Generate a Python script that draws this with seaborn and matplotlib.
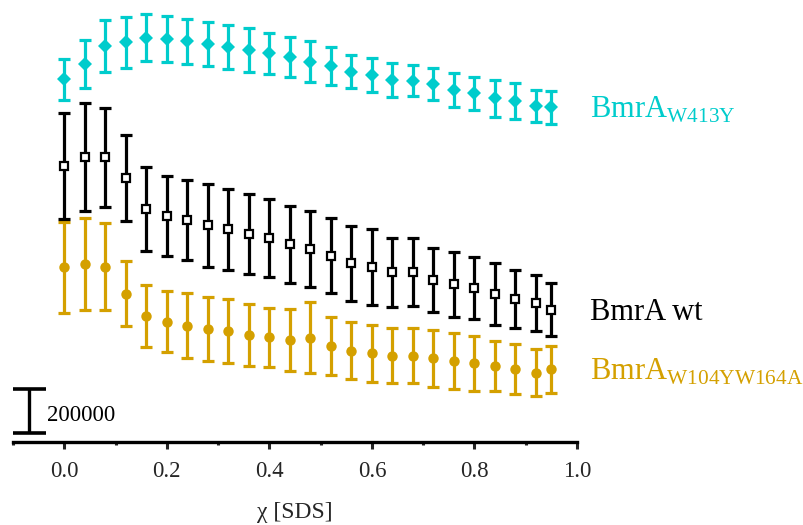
import numpy as np
import pandas as pd
import matplotlib
matplotlib.use("Agg")
import matplotlib.pyplot as plt
import seaborn as sns

# ---- data ----
chi = [0.00, 0.04, 0.08, 0.12, 0.16, 0.20, 0.24, 0.28, 0.32, 0.36, 0.40, 0.44,
       0.48, 0.52, 0.56, 0.60, 0.64, 0.68, 0.72, 0.76, 0.80, 0.84, 0.88, 0.92, 0.95]

w413y_mean = [1649000, 1718000, 1800000, 1817000, 1838000, 1832000, 1821000, 1809000,
              1795000, 1782000, 1767000, 1750000, 1729000, 1709000, 1683000, 1667000,
              1645000, 1642000, 1626000, 1600000, 1585000, 1562000, 1550000, 1527000, 1521000]
w413y_err = [93000, 111000, 118000, 116000, 107000, 103000, 104000, 99000, 99000, 99000,
             92000, 93000, 92000, 85000, 76000, 78000, 77000, 70000, 73000, 77000,
             75000, 83000, 81000, 74000, 76000]

wt_mean = [1256000, 1297000, 1294000, 1199000, 1058000, 1027000, 1009000, 986000,
           967000, 945000, 927000, 900000, 877000, 847000, 812000, 794000, 771000,
           771000, 736000, 717000, 699000, 673000, 649000, 630000, 601000]
wt_err = [241000, 245000, 225000, 196000, 190000, 182000, 181000, 189000, 183000,
          182000, 179000, 175000, 172000, 171000, 171000, 172000, 158000, 155000,
          145000, 148000, 140000, 142000, 133000, 127000, 120000]

dm_mean = [794000, 809000, 797000, 674000, 573000, 547000, 529000, 512000, 505000,
           486000, 476000, 462000, 474000, 436000, 415000, 403000, 392000, 392000,
           380000, 368000, 358000, 347000, 332000, 315000, 330000]
dm_err = [206000, 210000, 199000, 148000, 142000, 140000, 149000, 146000, 146000,
          140000, 135000, 141000, 162000, 133000, 129000, 128000, 126000, 124000,
          128000, 127000, 124000, 113000, 112000, 108000, 107000]

scale_value = 200000
xticks = [0.0, 0.2, 0.4, 0.6, 0.8, 1.0]
xtick_labels = ["0.0", "0.2", "0.4", "0.6", "0.8", "1.0"]

cyan = "#00CCCC"
gold = "#D4A000"
black = "#000000"

df = pd.DataFrame({
    "chi": chi * 3,
    "mean": w413y_mean + wt_mean + dm_mean,
    "err": w413y_err + wt_err + dm_err,
    "series": ["W413Y"] * len(chi) + ["wt"] * len(chi) + ["DM"] * len(chi),
})

sns.set_style("white")
plt.rcParams["font.family"] = ["Liberation Serif", "DejaVu Serif"]
plt.rcParams["mathtext.fontset"] = "custom"
plt.rcParams["mathtext.rm"] = "Liberation Serif"

fig = plt.figure(figsize=(8.04, 5.25), dpi=100)
ax = fig.add_axes([13 / 804, 83 / 525, 564 / 804, 440 / 525])

styles = {
    "DM": dict(color=gold, marker="o", ms=7.5, mfc=gold, mec=gold, mew=0),
    "wt": dict(color=black, marker="s", ms=5.5, mfc="white", mec=black, mew=1.6),
    "W413Y": dict(color=cyan, marker="D", ms=7.5, mfc=cyan, mec=cyan, mew=0),
}

for i, key in enumerate(["DM", "wt", "W413Y"]):
    sub = df[df["series"] == key]
    st = styles[key]
    ax.errorbar(sub["chi"], sub["mean"], yerr=sub["err"], fmt="none",
                ecolor=st["color"], elinewidth=2.3, capsize=4, capthick=2.3,
                zorder=2 + 2 * i)
    ax.plot(sub["chi"], sub["mean"], linestyle="none", marker=st["marker"],
            ms=st["ms"], mfc=st["mfc"], mec=st["mec"], mew=st["mew"],
            zorder=3 + 2 * i)

ax.set_xlim(-0.1, 1.0)
ax.set_ylim(0, 2000000)

for s in ["top", "right", "left"]:
    ax.spines[s].set_visible(False)
ax.spines["bottom"].set_linewidth(2.4)
ax.spines["bottom"].set_color("black")

ax.set_yticks([])
ax.set_xticks(xticks)
ax.set_xticklabels(xtick_labels, fontsize=16.5)
ax.set_xticks([-0.1, 0.1, 0.3, 0.5, 0.7, 0.9], minor=True)
ax.tick_params(axis="x", which="major", direction="out", length=5, width=2.2,
               pad=9, bottom=True)
ax.tick_params(axis="x", which="minor", direction="out", length=2.5, width=2.2,
               bottom=True)
ax.set_xlabel("χ [SDS]", fontsize=17, labelpad=14)

# scale bar
bar_x = -0.069
y0 = 41000
ax.plot([bar_x, bar_x], [y0, y0 + scale_value], color="black", lw=2.4,
        solid_capstyle="butt", clip_on=False)
ax.plot([-0.1, -0.036], [y0, y0], color="black", lw=2.6, solid_capstyle="butt",
        clip_on=False)
ax.plot([-0.1, -0.036], [y0 + scale_value, y0 + scale_value], color="black",
        lw=2.6, solid_capstyle="butt", clip_on=False)
ax.text(-0.034, 97000, f"{scale_value}", fontsize=16.5, ha="left",
        va="baseline", color="black")

# series labels
ax.text(1.025, 1472000, r"BmrA$_{\mathrm{W413Y}}$", fontsize=22, color=cyan,
        ha="left", va="baseline", clip_on=False)
ax.text(1.025, 554000, "BmrA wt", fontsize=22, color=black,
        ha="left", va="baseline", clip_on=False)
ax.text(1.025, 282000, r"BmrA$_{\mathrm{W104YW164A}}$", fontsize=22, color=gold,
        ha="left", va="baseline", clip_on=False)

fig.savefig("out.png", dpi=100, facecolor="white")
